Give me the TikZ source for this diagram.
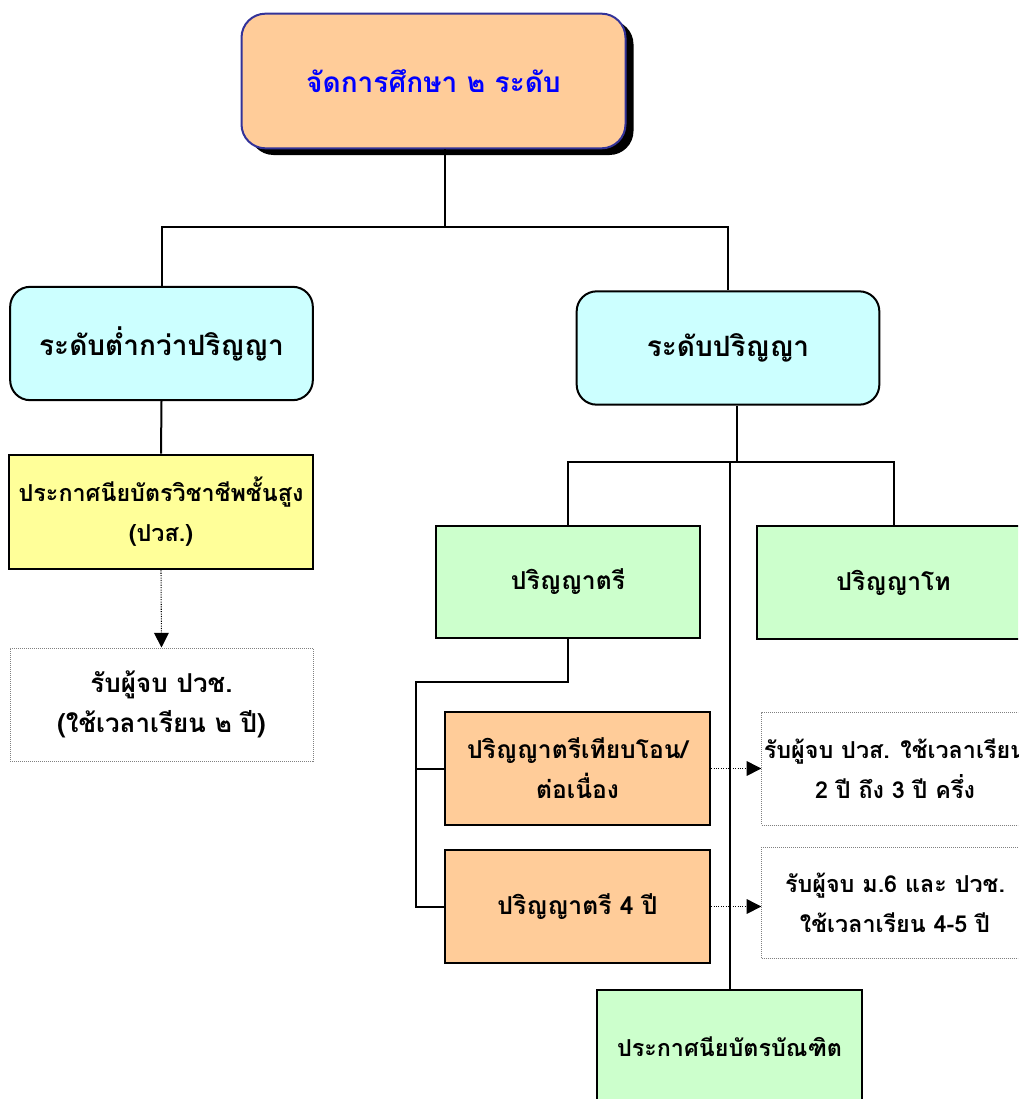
\documentclass[tikz,border=0pt]{standalone}
\usepackage{fontspec}
\newfontfamily\thaifont[Script=Thai]{Loma}
\usepackage{tikz}
\usetikzlibrary{arrows.meta,shadows}
\definecolor{peach}{HTML}{FFCC99}
\definecolor{skyc}{HTML}{CCFFFF}
\definecolor{lemon}{HTML}{FFFF99}
\definecolor{mint}{HTML}{CCFFCC}
\definecolor{navy}{HTML}{333399}
\tikzset{
  box/.style={draw=black, line width=1.5pt, inner sep=0pt, align=center,
    font=\thaifont\bfseries\fontsize{18.5}{30}\selectfont},
  bigtext/.style={font=\thaifont\bfseries\fontsize{21}{30}\selectfont},
  smalltext/.style={font=\thaifont\bfseries\fontsize{17.5}{30}\selectfont},
  levelbox/.style={box, bigtext, fill=skyc, rounded corners=15pt,
    minimum width=227pt, minimum height=85pt},
  notebox/.style={box, draw=gray, line width=0.5pt, densely dotted, fill=white},
  conn/.style={line width=1.5pt},
  dotarrow/.style={line width=0.8pt, densely dotted, -{Triangle[length=11pt,width=11pt]}}
}
\begin{document}
\begin{tikzpicture}[x=0.75pt, y=-0.75pt]
    \clip (0,0) rectangle (1018,1099);
    %Khung tren cung
    \node[box, bigtext, draw=navy, fill=peach, text=blue, rounded corners=18pt,
      minimum width=288pt, minimum height=101pt,
      drop shadow={shadow xshift=6pt, shadow yshift=-5pt, fill=black, opacity=1}]
      (top) at (433.5,81) {จัดการศึกษา ๒ ระดับ};
    %Hai cap
    \node[levelbox] (low) at (161.5,343.5) {ระดับต่ำกว่าปริญญา};
    \node[levelbox] (deg) at (728,348) {ระดับปริญญา};
    %Nhanh trai
    \node[box, smalltext, fill=lemon, line width=2pt, minimum width=228pt, minimum height=85.5pt]
      (dip) at (161,512) {ประกาศนียบัตรวิชาชีพชั้นสูง\\(ปวส.)};
    \node[notebox, font=\thaifont\bfseries\fontsize{19.5}{30}\selectfont,
      minimum width=227pt, minimum height=85pt]
      (dipnote) at (161.5,704.5) {รับผู้จบ ปวช.\\(ใช้เวลาเรียน ๒ ปี)};
    %Nhanh phai
    \node[box, fill=mint, minimum width=198pt, minimum height=84pt]
      (bach) at (568,582) {ปริญญาตรี};
    \node[box, fill=mint, minimum width=205pt, minimum height=85pt]
      (mast) at (893.5,582.5) {ปริญญาโท};
    \node[box, fill=peach, minimum width=199pt, minimum height=85pt]
      (cont) at (577.5,768.5) {ปริญญาตรีเทียบโอน/\\ต่อเนื่อง};
    \node[box, fill=peach, minimum width=199pt, minimum height=85pt]
      (four) at (577.5,906.5) {ปริญญาตรี 4 ปี};
    \node[notebox, smalltext, minimum width=200pt, minimum height=85pt]
      (contnote) at (895,768.5) {รับผู้จบ ปวส. ใช้เวลาเรียน\\2 ปี ถึง 3 ปี ครึ่ง};
    \node[notebox, smalltext, minimum width=200pt, minimum height=83pt]
      (fournote) at (895,902.5) {รับผู้จบ ม.6 และ ปวช.\\ใช้เวลาเรียน 4-5 ปี};
    \node[box, smalltext, fill=mint, minimum width=199pt, minimum height=85.5pt]
      (grad) at (729.5,1047) {ประกาศนียบัตรบัณฑิต};
    %Duong noi
    \coordinate (j0) at (445,227);
    \coordinate (j1) at (737,462);
    \coordinate (j2) at (416,682);
    \draw[conn] (top.south -| j0) -- (j0);
    \draw[conn] (low.north) |- (j0) -| (deg.north);
    \draw[conn] (low.south) -- (dip.north);
    \draw[dotarrow] (dip.south) -- (dipnote.north);
    \draw[conn] (deg.south -| j1) -- (j1);
    \draw[conn] (bach.north) |- (j1) -| (mast.north);
    \draw[conn] (j1 -| grad.north) -- (grad.north);
    \draw[conn] (bach.south) |- (j2) |- (cont.west);
    \draw[conn] (j2) |- (four.west);
    \draw[dotarrow] (cont.east) -- (contnote.west);
    \draw[dotarrow] (four.east) -- (four.east -| fournote.west);
\end{tikzpicture}
\end{document}
